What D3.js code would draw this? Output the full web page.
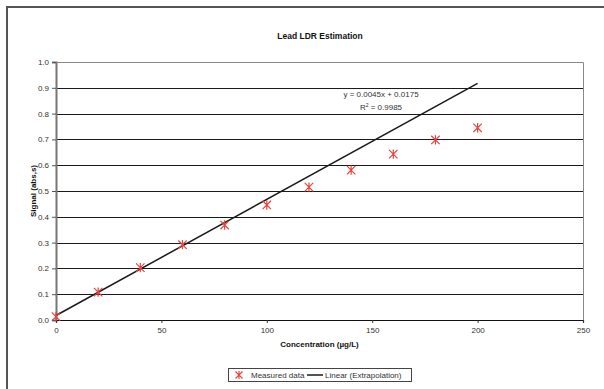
<!DOCTYPE html>
<html>
<head>
<meta charset="utf-8">
<script src="https://cdn.jsdelivr.net/npm/d3@7"></script>
<style>
  html, body { margin: 0; padding: 0; background: #fff; }
  svg { display: block; font-family: "Liberation Sans", Arial, sans-serif; }
</style>
</head>
<body>
<svg id="chart" width="604" height="389"></svg>
<script>
// Measured calibration points
const concentrations = [0, 20, 40, 60, 80, 100, 120, 140, 160, 180, 200];
const signals = [0.013, 0.108, 0.203, 0.292, 0.368, 0.446, 0.515, 0.581, 0.643, 0.698, 0.745];

// Linear trendline (extrapolated over the full range)
const slope = 0.0045;
const intercept = 0.0175;
const rSquared = "0.9985";
const lineRange = [0, 200];

// Axis ticks
const xTicks = [0, 50, 100, 150, 200, 250];
const yTicks = [0, 0.1, 0.2, 0.3, 0.4, 0.5, 0.6, 0.7, 0.8, 0.9, 1.0];

const title = "Lead LDR Estimation";
const xTitle = "Concentration (\u00b5g/L)";
const yTitle = "Signal (abs,s)";
const legendLabels = ["Measured data", "Linear (Extrapolation)"];

const svg = d3.select("#chart");
const plot = { left: 56, right: 583, top: 62, bottom: 320 };
const markerColor = "#e8423c";

const x = d3.scaleLinear().domain([0, 250]).range([plot.left, plot.right]);
const y = d3.scaleLinear().domain([0, 1]).range([plot.bottom, plot.top]);

// Outer chart frame
svg.append("rect")
  .attr("x", 7).attr("y", 7).attr("width", 640).attr("height", 420)
  .attr("fill", "#fff").attr("stroke", "#555").attr("stroke-width", 2);

// Title
svg.append("text")
  .attr("x", 320).attr("y", 39)
  .attr("text-anchor", "middle")
  .attr("font-size", 8.5).attr("font-weight", "bold").attr("fill", "#111")
  .text(title);

// Horizontal gridlines
svg.append("g").selectAll("line")
  .data(yTicks.filter(t => t > 0 && t < 1))
  .join("line")
  .attr("x1", plot.left).attr("x2", plot.right)
  .attr("y1", d => Math.round(y(d)) + 0.5).attr("y2", d => Math.round(y(d)) + 0.5)
  .attr("stroke", "#1a1a1a").attr("stroke-width", 1);

// Plot area top and right border
svg.append("path")
  .attr("d", `M${plot.left},${plot.top + 0.5}H${plot.right + 0.5}V${plot.bottom}`)
  .attr("fill", "none").attr("stroke", "#888").attr("stroke-width", 1);

// Y axis
const yAxis = d3.axisLeft(y).tickValues(yTicks).tickFormat(d3.format(".1f")).tickSize(4).tickPadding(3);
const gy = svg.append("g").attr("transform", `translate(${plot.left},0)`).call(yAxis);
gy.select(".domain").attr("stroke", "#777").attr("stroke-width", 2);
gy.selectAll(".tick line").attr("stroke", "#555");
gy.selectAll(".tick text").attr("font-size", 8).attr("fill", "#333")
  .attr("font-family", "'Liberation Sans', Arial, sans-serif");

// X axis
const xAxis = d3.axisBottom(x).tickValues(xTicks).tickSize(3).tickPadding(4);
const gx = svg.append("g").attr("transform", `translate(0,${plot.bottom})`).call(xAxis);
gx.select(".domain").attr("stroke", "#111").attr("stroke-width", 1.2);
gx.selectAll(".tick line").attr("stroke", "#333");
gx.selectAll(".tick text").attr("font-size", 8).attr("fill", "#333")
  .attr("font-family", "'Liberation Sans', Arial, sans-serif");

// Axis titles
svg.append("text")
  .attr("x", (plot.left + plot.right) / 2).attr("y", 347)
  .attr("text-anchor", "middle")
  .attr("font-size", 8).attr("font-weight", "bold").attr("fill", "#111")
  .text(xTitle);

svg.append("text")
  .attr("transform", `translate(36,${(plot.top + plot.bottom) / 2}) rotate(-90)`)
  .attr("text-anchor", "middle")
  .attr("font-size", 8).attr("font-weight", "bold").attr("fill", "#111")
  .text(yTitle);

// Trendline
const line = d3.line().x(d => x(d)).y(d => y(slope * d + intercept));
svg.append("path")
  .attr("d", line(lineRange))
  .attr("fill", "none").attr("stroke", "#1a1a1a").attr("stroke-width", 1.5);

// Star marker: an X crossed by a vertical bar
function starPath(s) {
  return `M${-s},${-s}L${s},${s}M${-s},${s}L${s},${-s}M0,${-s - 0.5}L0,${s + 0.5}`;
}

svg.append("g").selectAll("path")
  .data(concentrations.map((c, i) => [c, signals[i]]))
  .join("path")
  .attr("transform", d => `translate(${x(d[0])},${y(d[1])})`)
  .attr("d", starPath(4.2))
  .attr("fill", "none").attr("stroke", markerColor).attr("stroke-width", 1.2);

// Equation and R² annotation
svg.append("text")
  .attr("x", 381).attr("y", 97)
  .attr("text-anchor", "middle")
  .attr("font-size", 8).attr("fill", "#333")
  .text(`y = ${slope}x + ${intercept}`);

const r2 = svg.append("text")
  .attr("x", 381).attr("y", 110)
  .attr("text-anchor", "middle")
  .attr("font-size", 8).attr("fill", "#333");
r2.append("tspan").text("R");
r2.append("tspan").attr("font-size", 5).attr("dy", -3).text("2");
r2.append("tspan").attr("dy", 3).text(` = ${rSquared}`);

// Legend
const legend = svg.append("g");
legend.append("rect")
  .attr("x", 228.5).attr("y", 368.5).attr("width", 183).attr("height", 13)
  .attr("fill", "#fff").attr("stroke", "#444").attr("stroke-width", 1);
legend.append("path")
  .attr("transform", "translate(239,375)")
  .attr("d", starPath(3.5))
  .attr("fill", "none").attr("stroke", markerColor).attr("stroke-width", 1.1);
legend.append("text")
  .attr("x", 251).attr("y", 378)
  .attr("font-size", 8).attr("fill", "#333")
  .text(legendLabels[0]);
legend.append("line")
  .attr("x1", 307).attr("x2", 323).attr("y1", 375).attr("y2", 375)
  .attr("stroke", "#1a1a1a").attr("stroke-width", 1.5);
legend.append("text")
  .attr("x", 325).attr("y", 378)
  .attr("font-size", 8).attr("fill", "#333")
  .text(legendLabels[1]);
</script>
</body>
</html>
